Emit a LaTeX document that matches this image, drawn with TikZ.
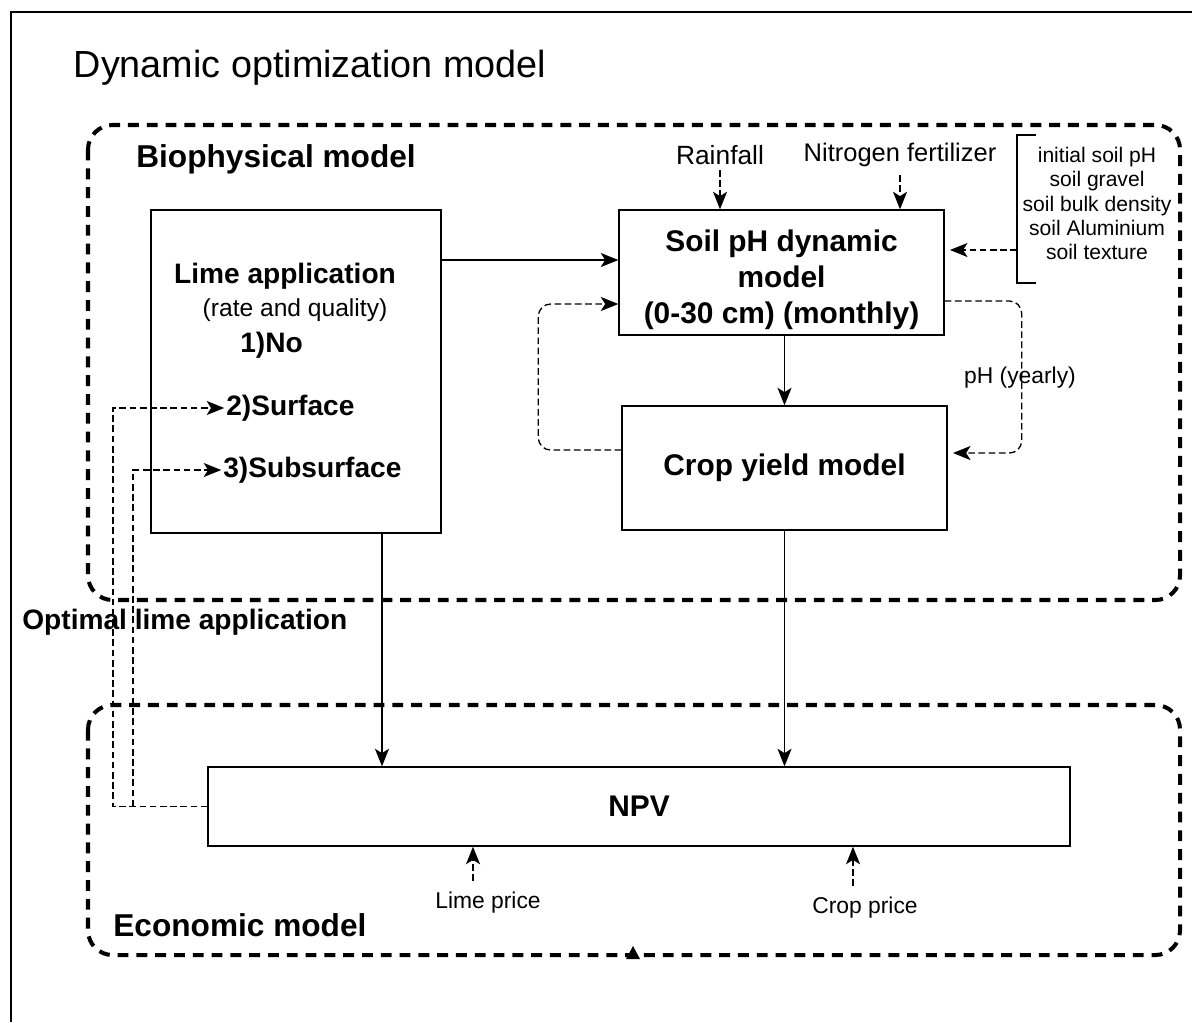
\documentclass[tikz,border=0pt]{standalone}
\usepackage{fontspec}
\setmainfont{Liberation Sans}
\usetikzlibrary{arrows.meta}

\tikzset{
  box/.style={draw, line width=0.8pt, inner sep=0pt},
  region/.style={line width=2.3pt, dash pattern=on 6.2pt off 4.5pt, rounded corners=14pt},
  flow/.style={line width=0.75pt, -{Stealth[length=10pt,width=8pt,inset=2.5pt]}},
  feed/.style={flow, dash pattern=on 3.8pt off 2pt},
  txt/.style={inner sep=0pt, font=\fontsize{#1}{#1}\selectfont},
  btxt/.style={inner sep=0pt, font=\fontsize{#1}{#1}\selectfont\bfseries},
}

\begin{document}
\begin{tikzpicture}[x=0.02cm, y=-0.02cm]
    \useasboundingbox (0,0) rectangle (1192,1022);

    % frame and the two model regions
    \draw[line width=1.1pt] (11,1022) -- (11,12) -- (1192,12);
    \draw[region] (88,125) rectangle (1180,600);
    \draw[region] (88,705) rectangle (1180,955);
    \fill (626,959) -- (640,959) -- (633,946) -- cycle;

    \node[txt=21.5] (title) at (310,68) {Dynamic optimization model};
    \node[btxt=18, anchor=west] (bio) at (136,159) {Biophysical model};
    \node[btxt=18, anchor=west] (eco) at (113,925) {Economic model};
    \node[btxt=16, anchor=west] (opt) at (22,622) {Optimal lime application};

    % boxes
    \node[box, minimum width=5.8cm, minimum height=6.46cm] (lime) at (296,371.5) {};
    \node[box, minimum width=6.5cm, minimum height=2.5cm] (soil) at (781.5,272.5) {};
    \node[align=center, inner sep=0pt, font=\fontsize{17}{20.5}\selectfont\bfseries]
          (soiltxt) at (781.5,280) {Soil pH dynamic\\model\\(0-30 cm) (monthly)};
    \node[box, minimum width=6.5cm, minimum height=2.48cm,
          font=\fontsize{17}{21}\selectfont\bfseries] (crop) at (784.5,468) {Crop yield model};
    \node[box, minimum width=17.24cm, minimum height=1.58cm,
          font=\fontsize{17}{21}\selectfont\bfseries] (npv) at (639,806.5) {NPV};

    % lime box contents
    \node[btxt=16] (limetitle) at (285,276) {Lime application};
    \node[txt=14] (rate) at (295,310) {(rate and quality)};
    \node[btxt=16, anchor=west] (no) at (240,345) {1)No};
    \node[btxt=16, anchor=west] (surf) at (226,408) {2)Surface};
    \node[btxt=16, anchor=west] (subs) at (223,470) {3)Subsurface};

    % inputs
    \node[txt=15] (rain) at (720,155) {Rainfall};
    \node[txt=14.5] (nit) at (900,155) {Nitrogen fertilizer};
    \node[txt=12, align=center, font=\fontsize{12}{13.8}\selectfont] (props) at (1097,203.5)
          {initial soil pH\\soil gravel\\soil bulk density\\soil Aluminium\\soil texture};
    \draw[line width=0.8pt] (1036,135) -- (1017,135) -- (1017,283) -- (1036,283);
    \coordinate (brk) at (1017,250);
    \node[txt=13] (lp) at (488,903) {Lime price};
    \node[txt=13] (cp) at (865,908) {Crop price};
    \node[txt=13] (yearly) at (1020,378) {pH (yearly)};

    % connectors
    \draw[flow] ([yshift=2.23cm]lime.east) -- ([yshift=2.23cm]lime.east -| soil.west);
    \draw[feed] (rain.south) ++(0,5) -- (rain.south |- soil.north);
    \draw[feed] (nit.south) ++(0,8) -- (nit.south |- soil.north);
    \draw[feed, shorten >=3pt] (brk) -- (brk -| soil.east);
    \draw[flow] (crop.north |- soil.south) -- (crop.north);
    \draw[feed, rounded corners=7pt] ([yshift=0.36cm]crop.west) -- ++(-83,0)
        |- ([yshift=-0.63cm]soil.west);
    \draw[feed, rounded corners=7pt, shorten >=3pt] ([yshift=-0.57cm]soil.east) -- ++(77,0)
        |- ([yshift=0.3cm]crop.east);
    \draw[flow] ([xshift=1.72cm]lime.south) -- ([xshift=1.72cm]lime.south |- npv.north);
    \draw[flow] (crop.south) -- (crop.south |- npv.north);
    \draw[feed] ([xshift=-0.3cm,yshift=0.22cm]lp.north) -- ([xshift=-0.3cm]lp.north |- npv.south);
    \draw[feed] ([xshift=-0.24cm,yshift=0.22cm]cp.north) -- ([xshift=-0.24cm]cp.north |- npv.south);
    \draw[feed, shorten >=1pt] (npv.west) -- (113,806.5) |- (surf.west);
    \draw[feed, shorten >=1pt] (133,806.5) |- (subs.west);
\end{tikzpicture}
\end{document}
